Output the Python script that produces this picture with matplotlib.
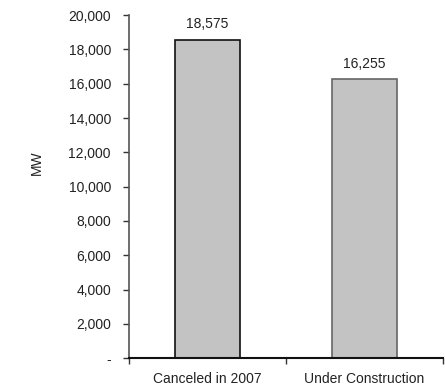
import matplotlib.pyplot as plt
from matplotlib.ticker import FuncFormatter

# Capacity figures (MW)
CATEGORIES = ['Canceled in 2007', 'Under Construction']
CAPACITY_MW = [18575, 16255]
Y_TICKS = [0, 2000, 4000, 6000, 8000, 10000, 12000, 14000, 16000, 18000, 20000]

plt.rcParams['font.family'] = ['Liberation Sans', 'DejaVu Sans']
TEXT_SIZE = 10


def tick_fmt(value, pos):
    # zero is shown as a dash, like an accounting format
    if value == 0:
        return '-'
    return f'{int(value):,}'


def run():
    fig = plt.figure(figsize=(4.45, 3.88), dpi=100)
    ax = fig.add_axes([0.29, 0.077, 0.705, 0.884])

    positions = list(range(len(CATEGORIES)))
    bars = ax.bar(positions, CAPACITY_MW, width=0.41, color='#c3c3c3',
                  edgecolor=['#111111', '#666666'], linewidth=1.2, zorder=2)

    for bar, value in zip(bars, CAPACITY_MW):
        ax.text(bar.get_x() + bar.get_width() / 2, value + 500, f'{value:,}',
                ha='center', va='bottom', fontsize=TEXT_SIZE, color='#222222')

    ax.set_xlim(-0.5, 1.5)
    ax.set_ylim(0, 20000)
    ax.set_yticks(Y_TICKS)
    ax.yaxis.set_major_formatter(FuncFormatter(tick_fmt))
    ax.set_xticks(positions)
    ax.set_xticklabels(CATEGORIES)
    # category ticks sit on the boundaries between bars
    ax.set_xticks([-0.5, 0.5, 1.5], minor=True)
    ax.tick_params(axis='x', which='major', length=0, pad=10,
                   labelsize=TEXT_SIZE, labelcolor='#222222')
    ax.tick_params(axis='x', which='minor', length=4, width=1, color='#333333')
    ax.tick_params(axis='y', length=4, width=1, color='#333333', pad=9,
                   labelsize=TEXT_SIZE, labelcolor='#222222')

    for side in ['top', 'right']:
        ax.spines[side].set_visible(False)
    ax.spines['left'].set_color('#555555')
    ax.spines['left'].set_linewidth(1.2)
    ax.spines['bottom'].set_color('#111111')
    ax.spines['bottom'].set_linewidth(1.5)

    ax.set_ylabel('MW', fontsize=TEXT_SIZE, color='#222222')
    ax.yaxis.set_label_coords(-0.27, 0.57)

    fig.savefig('out.png', dpi=100)


run()
